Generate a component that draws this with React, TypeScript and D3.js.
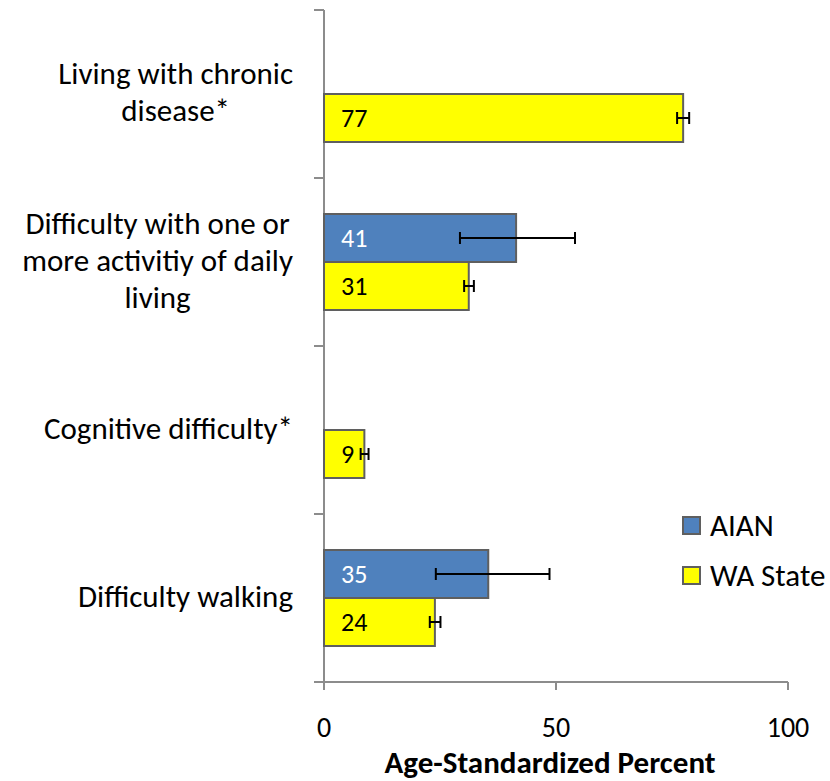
import React, { useEffect, useRef } from 'react'
import * as d3 from 'd3'

const categories = [
  'Living with chronic disease*',
  'Difficulty with one or more activitiy of daily living',
  'Cognitive difficulty*',
  'Difficulty walking',
]
// wrapped lines of each category label, as in the picture
const categoryLines = [
  ['Living with chronic', 'disease*'],
  ['Difficulty with one or', 'more activitiy of daily', 'living'],
  ['Cognitive difficulty*'],
  ['Difficulty walking'],
]
const seriesNames = ['AIAN', 'WA State']
const seriesColors = ['#4F81BD', '#FFFF00']
const labelColors = ['#FFFFFF', '#000000']

// null = no bar for that group
const aianValues = [null, 41.4, null, 35.4]
const aianLow = [null, 29.3, null, 24.1]
const aianHigh = [null, 54.1, null, 48.6]

const waValues = [77.4, 31.2, 8.7, 23.9]
const waLow = [76.1, 30.2, 7.9, 22.8]
const waHigh = [78.7, 32.3, 9.6, 25.1]

const xTicks = [0, 50, 100]
const xTitle = 'Age-Standardized Percent'

const W = 830
const H = 781
const FONT = 'Calibri, Carlito, Lato, sans-serif'

export default function App() {
  const ref = useRef<SVGSVGElement>(null)

  useEffect(() => {
    const svg = d3.select(ref.current)
    svg.selectAll('*').remove()

    const x = d3.scaleLinear().domain([0, 100]).range([324, 788])
    const y = d3.scaleBand().domain(categories).range([10, 682]).padding(0)
    const sub = d3
      .scaleBand()
      .domain(seriesNames)
      .range([0, y.bandwidth()])
      .paddingInner(0)
      .paddingOuter(0.75)

    const axisColor = '#8C8C8C'

    // y axis line + ticks between categories
    svg
      .append('line')
      .attr('x1', x(0))
      .attr('x2', x(0))
      .attr('y1', 10)
      .attr('y2', 690)
      .attr('stroke', axisColor)
      .attr('stroke-width', 2)
    const yTickPos = categories.map((c) => y(c) as number).concat([682])
    svg
      .selectAll('line.ytick')
      .data(yTickPos)
      .enter()
      .append('line')
      .attr('class', 'ytick')
      .attr('x1', x(0) - 10)
      .attr('x2', x(0))
      .attr('y1', (d) => d)
      .attr('y2', (d) => d)
      .attr('stroke', axisColor)
      .attr('stroke-width', 2)

    // x axis
    svg
      .append('line')
      .attr('x1', x(0) - 10)
      .attr('x2', x(100))
      .attr('y1', 682)
      .attr('y2', 682)
      .attr('stroke', axisColor)
      .attr('stroke-width', 2)
    svg
      .selectAll('line.xtick')
      .data(xTicks)
      .enter()
      .append('line')
      .attr('class', 'xtick')
      .attr('x1', (d) => x(d))
      .attr('x2', (d) => x(d))
      .attr('y1', 682)
      .attr('y2', 690)
      .attr('stroke', axisColor)
      .attr('stroke-width', 2)
    svg
      .selectAll('text.xlab')
      .data(xTicks)
      .enter()
      .append('text')
      .attr('class', 'xlab')
      .attr('x', (d) => x(d))
      .attr('y', 737)
      .attr('text-anchor', 'middle')
      .style('font-family', FONT)
      .style('font-size', '28px')
      .text((d) => d)

    svg
      .append('text')
      .attr('x', 550)
      .attr('y', 773)
      .attr('text-anchor', 'middle')
      .style('font-family', FONT)
      .style('font-size', '31px')
      .style('font-weight', 'bold')
      .text(xTitle)

    // category labels, each line centered on the widest line, block right-aligned
    const lineH = 37
    categoryLines.forEach((lines, i) => {
      const cy = (y(categories[i]) as number) + y.bandwidth() / 2
      const g = svg.append('g')
      const texts = lines.map((ln, j) =>
        g
          .append('text')
          .attr('y', cy + (j - (lines.length - 1) / 2) * lineH)
          .attr('dy', '0.28em')
          .attr('text-anchor', 'middle')
          .style('font-family', FONT)
          .style('font-size', '31px')
          .text(ln)
      )
      const maxW = d3.max(texts, (t) => (t.node() as SVGTextElement).getComputedTextLength()) || 0
      texts.forEach((t) => t.attr('x', 293 - maxW / 2))
    })

    // bars
    const series = [
      { name: seriesNames[0], values: aianValues, low: aianLow, high: aianHigh },
      { name: seriesNames[1], values: waValues, low: waLow, high: waHigh },
    ]
    series.forEach((s, si) => {
      const rows = categories
        .map((c, i) => ({ c, v: s.values[i], lo: s.low[i], hi: s.high[i] }))
        .filter((r) => r.v != null) as { c: string; v: number; lo: number; hi: number }[]
      const by = (r: { c: string }) => (y(r.c) as number) + (sub(s.name) as number)
      const bh = sub.bandwidth()

      svg
        .selectAll('rect.s' + si)
        .data(rows)
        .enter()
        .append('rect')
        .attr('class', 's' + si)
        .attr('x', x(0))
        .attr('y', by)
        .attr('width', (r) => x(r.v) - x(0))
        .attr('height', bh)
        .attr('fill', seriesColors[si])
        .attr('stroke', '#5F5F5F')
        .attr('stroke-width', 2)

      svg
        .selectAll('text.v' + si)
        .data(rows)
        .enter()
        .append('text')
        .attr('class', 'v' + si)
        .attr('x', x(0) + 17)
        .attr('y', (r) => by(r) + bh / 2)
        .attr('dy', '0.36em')
        .attr('fill', labelColors[si])
        .style('font-family', FONT)
        .style('font-size', '26px')
        .text((r) => Math.round(r.v))

      // error bars
      const eg = svg.selectAll('g.e' + si).data(rows).enter().append('g')
      eg.append('line')
        .attr('x1', (r) => x(r.lo))
        .attr('x2', (r) => x(r.hi))
        .attr('y1', (r) => by(r) + bh / 2)
        .attr('y2', (r) => by(r) + bh / 2)
        .attr('stroke', '#000')
        .attr('stroke-width', 2)
      ;['lo', 'hi'].forEach((k) => {
        eg.append('line')
          .attr('x1', (r: any) => x(r[k]))
          .attr('x2', (r: any) => x(r[k]))
          .attr('y1', (r) => by(r) + bh / 2 - 6)
          .attr('y2', (r) => by(r) + bh / 2 + 6)
          .attr('stroke', '#000')
          .attr('stroke-width', 2)
      })
    })

    // legend
    const legend = svg
      .selectAll('g.leg')
      .data(seriesNames)
      .enter()
      .append('g')
      .attr('transform', (d, i) => 'translate(683,' + (517 + i * 50) + ')')
    legend
      .append('rect')
      .attr('width', 17)
      .attr('height', 17)
      .attr('fill', (d, i) => seriesColors[i])
      .attr('stroke', '#5F5F5F')
      .attr('stroke-width', 2)
    legend
      .append('text')
      .attr('x', 27)
      .attr('y', 8.5)
      .attr('dy', '0.33em')
      .style('font-family', FONT)
      .style('font-size', '31px')
      .text((d) => d)
  }, [])

  return (
    <svg
      ref={ref}
      width={W}
      height={H}
      style={{ position: 'absolute', left: 0, top: 0, background: '#fff' }}
    />
  )
}
